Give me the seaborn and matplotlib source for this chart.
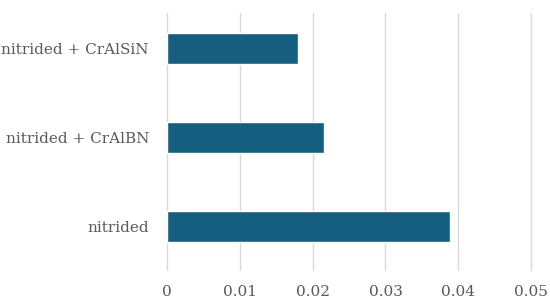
import matplotlib
matplotlib.use("Agg")
import matplotlib.pyplot as plt
import seaborn as sns
import pandas as pd

categories = ["nitrided + CrAlSiN", "nitrided + CrAlBN", "nitrided"]
values = [0.0180, 0.0216, 0.0389]
x_ticks = [0, 0.01, 0.02, 0.03, 0.04, 0.05]
x_labels = ["0", "0.01", "0.02", "0.03", "0.04", "0.05"]

df = pd.DataFrame({"sample": categories, "value": values})

sns.set_theme(style="white")
plt.rcParams['font.family'] = ['DejaVu Serif']

fig = plt.figure(figsize=(5.5, 3.03), dpi=100)
ax = fig.add_axes([0.3036, 0.109, 0.662, 0.848])

sns.barplot(data=df, x="value", y="sample", order=categories, color="#165E80",
            saturation=1, width=0.35, ax=ax, orient="h")

ax.set_xlim(0, 0.05)
ax.set_ylim(2.487, -0.401)
ax.set_xticks(x_ticks)
ax.set_xticklabels(x_labels)
ax.grid(axis="x", color="#D9D9D9", linewidth=1)
for gl in ax.get_xgridlines():
    gl.set_clip_on(False)
ax.set_axisbelow(True)
for s in ax.spines.values():
    s.set_visible(False)
ax.tick_params(axis="both", length=0, colors="#595959", labelsize=11)
ax.tick_params(axis="x", pad=11)
ax.tick_params(axis="y", pad=13)
ax.set_xlabel("")
ax.set_ylabel("")

fig.savefig("out.png", dpi=100)
